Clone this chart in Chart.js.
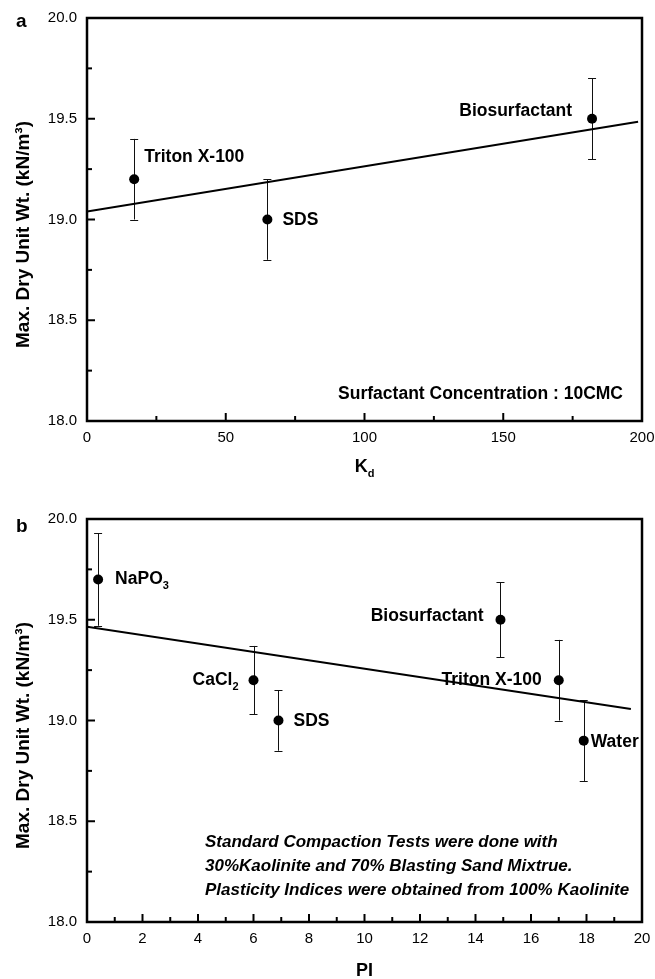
<!DOCTYPE html>
<html><head><meta charset="utf-8">
<script src="https://cdn.jsdelivr.net/npm/chart.js@4.4.0/dist/chart.umd.min.js"></script>
<style>
html,body{margin:0;padding:0;background:#fff;}
canvas{display:block;position:absolute;left:0;}
</style>
</head><body>
<canvas id="ca" width="655" height="490" style="top:0px"></canvas>
<canvas id="cb" width="655" height="489" style="top:490px"></canvas>
<script>
// ---------- Panel a : Max. dry unit weight vs Kd ----------
const aNames = ['Triton X-100', 'SDS', 'Biosurfactant'];
const aKd    = [17, 65, 182];
const aWt    = [19.2, 19.0, 19.5];
const aErr   = [0.2, 0.2, 0.2];
const aFitX  = [0, 198.6];
const aFitY  = [19.04, 19.485];
const aXTicks = [0, 50, 100, 150, 200];

// ---------- Panel b : Max. dry unit weight vs PI ----------
const bNames = ['NaPO₃', 'CaCl₂', 'SDS', 'Biosurfactant', 'Triton X-100', 'Water'];
const bPI    = [0.4, 6, 6.9, 14.9, 17, 17.9];
const bWt    = [19.7, 19.2, 19.0, 19.5, 19.2, 18.9];
const bErr   = [0.23, 0.17, 0.15, 0.185, 0.2, 0.2];
const bFitX  = [0, 19.6];
const bFitY  = [19.465, 19.057];
const bXTicks = [0, 2, 4, 6, 8, 10, 12, 14, 16, 18, 20];

const yTicks = [18.0, 18.5, 19.0, 19.5, 20.0];
const yTitle = 'Max. Dry Unit Wt. (kN/m³)';

const FONT = '"Liberation Sans", Arial, Helvetica, sans-serif';
const SUBS = '₀₁₂₃₄₅₆₇₈₉';

function segs(text, subFrom){
  const out = [];
  let idx = 0;
  for (const ch of text){
    const i = SUBS.indexOf(ch);
    const sub = i >= 0 || (subFrom !== undefined && idx >= subFrom);
    const c = i >= 0 ? String(i) : ch;
    if (out.length && out[out.length-1].sub === sub) out[out.length-1].t += c;
    else out.push({t:c, sub});
    idx++;
  }
  return out;
}
function drawRich(ctx, text, x, y, align, size, style, subFrom){
  const parts = segs(text, subFrom);
  const mainF = (style||'bold') + ' ' + size + 'px ' + FONT;
  const subF = (style||'bold') + ' ' + Math.round(size*0.62) + 'px ' + FONT;
  let w = 0;
  parts.forEach(p => { ctx.font = p.sub ? subF : mainF; p.w = ctx.measureText(p.t).width; w += p.w; });
  let cx = align === 'right' ? x - w : (align === 'center' ? x - w/2 : x);
  ctx.textAlign = 'left';
  ctx.textBaseline = 'middle';
  parts.forEach(p => {
    ctx.font = p.sub ? subF : mainF;
    ctx.fillText(p.t, cx, p.sub ? y + size*0.38 : y);
    cx += p.w;
  });
}

function pts(xs, ys){ return xs.map((v,i) => ({x:v, y:ys[i]})); }

const decoPlugin = {
  id: 'deco',
  beforeDatasetsDraw(chart){
    const d = chart.options.plugins.deco;
    const {ctx, scales:{x, y}} = chart;
    ctx.save();
    ctx.strokeStyle = '#111';
    ctx.lineWidth = 1;
    d.xs.forEach((xv, i) => {
      const px = x.getPixelForValue(xv);
      const p1 = y.getPixelForValue(d.ys[i] + d.err[i]);
      const p2 = y.getPixelForValue(d.ys[i] - d.err[i]);
      ctx.beginPath();
      ctx.moveTo(Math.round(px)+0.5, p1); ctx.lineTo(Math.round(px)+0.5, p2);
      ctx.moveTo(px-4, Math.round(p1)+0.5); ctx.lineTo(px+4, Math.round(p1)+0.5);
      ctx.moveTo(px-4, Math.round(p2)+0.5); ctx.lineTo(px+4, Math.round(p2)+0.5);
      ctx.stroke();
    });
    ctx.restore();
  },
  afterDraw(chart){
    const d = chart.options.plugins.deco;
    const {ctx, chartArea:{left, right, top, bottom}, scales:{x, y}} = chart;
    ctx.save();
    ctx.fillStyle = '#000';
    ctx.strokeStyle = '#000';
    ctx.lineWidth = 2;
    x.ticks.forEach(t => {
      const px = x.getPixelForValue(t.value);
      const major = t.label !== '';
      ctx.beginPath(); ctx.moveTo(px, bottom); ctx.lineTo(px, bottom - (major ? 8 : 5)); ctx.stroke();
    });
    y.ticks.forEach(t => {
      const py = y.getPixelForValue(t.value);
      const major = t.label !== '';
      ctx.beginPath(); ctx.moveTo(left, py); ctx.lineTo(left + (major ? 8 : 5), py); ctx.stroke();
    });
    ctx.lineWidth = 2.5;
    ctx.strokeRect(left, top, right-left, bottom-top);
    d.names.forEach((n, i) => {
      const o = d.offs[i];
      const px = x.getPixelForValue(d.xs[i]);
      const py = y.getPixelForValue(d.ys[i]);
      drawRich(ctx, n, px + o[0], py + o[1], o[2], 17.5, 'bold');
    });
    d.notes.forEach(nt => {
      ctx.font = nt.font;
      ctx.textAlign = nt.align;
      ctx.textBaseline = 'alphabetic';
      ctx.fillText(nt.text, nt.ax === 'right' ? right + nt.dx : left + nt.dx, bottom + nt.dy);
    });
    ctx.font = 'bold 19px ' + FONT;
    ctx.textAlign = 'left'; ctx.textBaseline = 'alphabetic';
    ctx.fillText(d.letter, 16, d.letterY);
    ctx.save();
    ctx.translate(24, (top + bottom)/2 + 15);
    ctx.rotate(-Math.PI/2);
    ctx.font = 'bold 19px ' + FONT;
    ctx.textAlign = 'center'; ctx.textBaseline = 'middle';
    ctx.fillText(chart.options.scales.y.title.text, 0, 0);
    ctx.restore();
    drawRich(ctx, chart.options.scales.x.title.text, (left+right)/2, bottom + d.xTitleDy, 'center', 18, 'bold', d.xTitleSubFrom);
    ctx.restore();
  }
};

function makeChart(id, cfg){
  return new Chart(document.getElementById(id), {
    type: 'scatter',
    data: {
      datasets: [
        { data: pts(cfg.xs, cfg.ys), pointRadius: 5, pointHoverRadius: 5,
          backgroundColor: '#000', borderColor: '#000', borderWidth: 0, order: 0 },
        { data: pts(cfg.fitX, cfg.fitY), showLine: true, pointRadius: 0,
          borderColor: '#000', borderWidth: 2, fill: false, order: 1 }
      ]
    },
    options: {
      responsive: false, animation: false, devicePixelRatio: 1,
      layout: { padding: { top: cfg.padTop, right: 13, left: 0, bottom: 0 } },
      plugins: {
        legend: { display: false }, tooltip: { enabled: false },
        deco: cfg.deco
      },
      scales: {
        x: {
          type: 'linear', min: cfg.xMin, max: cfg.xMax,
          title: { display: false, text: cfg.xTitle },
          grid: { display: false, drawTicks: false }, border: { display: false },
          ticks: { stepSize: cfg.xStep, autoSkip: false, maxRotation: 0, padding: 8,
                   color: '#000', font: { family: FONT, size: 15 },
                   callback: v => cfg.xTicks.includes(Math.round(v*1000)/1000) ? String(v) : '' },
          afterFit: s => { s.height = cfg.xAxisH; s.paddingLeft = 0; s.paddingRight = 0; }
        },
        y: {
          type: 'linear', min: 18, max: 20,
          title: { display: false, text: yTitle },
          grid: { display: false, drawTicks: false }, border: { display: false },
          ticks: { stepSize: 0.25, autoSkip: false, padding: 10,
                   color: '#000', font: { family: FONT, size: 15 },
                   callback: v => yTicks.includes(Math.round(v*100)/100) ? v.toFixed(1) : '' },
          afterFit: s => { s.width = 87; s.paddingTop = 0; s.paddingBottom = 0; }
        }
      }
    },
    plugins: [decoPlugin]
  });
}

makeChart('ca', {
  xs: aKd, ys: aWt, fitX: aFitX, fitY: aFitY,
  xMin: 0, xMax: 200, xStep: 25, xTicks: aXTicks, xTitle: 'Kd',
  padTop: 18, xAxisH: 69,
  deco: {
    xs: aKd, ys: aWt, err: aErr, names: aNames,
    offs: [[10, -22, 'left'], [15, 1, 'left'], [-20, -8, 'right']],
    notes: [{ text: 'Surfactant Concentration : 10CMC', font: 'bold 17.5px ' + FONT,
              align: 'right', ax: 'right', dx: -19, dy: -22 }],
    letter: 'a', letterY: 26.5, xTitleDy: 46, xTitleSubFrom: 1
  }
});

makeChart('cb', {
  xs: bPI, ys: bWt, fitX: bFitX, fitY: bFitY,
  xMin: 0, xMax: 20, xStep: 1, xTicks: bXTicks, xTitle: 'PI',
  padTop: 29, xAxisH: 57,
  deco: {
    xs: bPI, ys: bWt, err: bErr, names: bNames,
    offs: [[17, 0, 'left'], [-15, 0, 'right'], [15, 1, 'left'], [-17, -4, 'right'], [-17, 0, 'right'], [7, 2, 'left']],
    notes: [
      { text: 'Standard Compaction Tests were done with', font: 'italic bold 17px ' + FONT, align: 'left', ax: 'left', dx: 118, dy: -75 },
      { text: '30%Kaolinite and 70% Blasting Sand Mixtrue.', font: 'italic bold 17px ' + FONT, align: 'left', ax: 'left', dx: 118, dy: -51 },
      { text: 'Plasticity Indices were obtained from 100% Kaolinite', font: 'italic bold 17px ' + FONT, align: 'left', ax: 'left', dx: 118, dy: -27 }
    ],
    letter: 'b', letterY: 42, xTitleDy: 49
  }
});
</script>
</body></html>
